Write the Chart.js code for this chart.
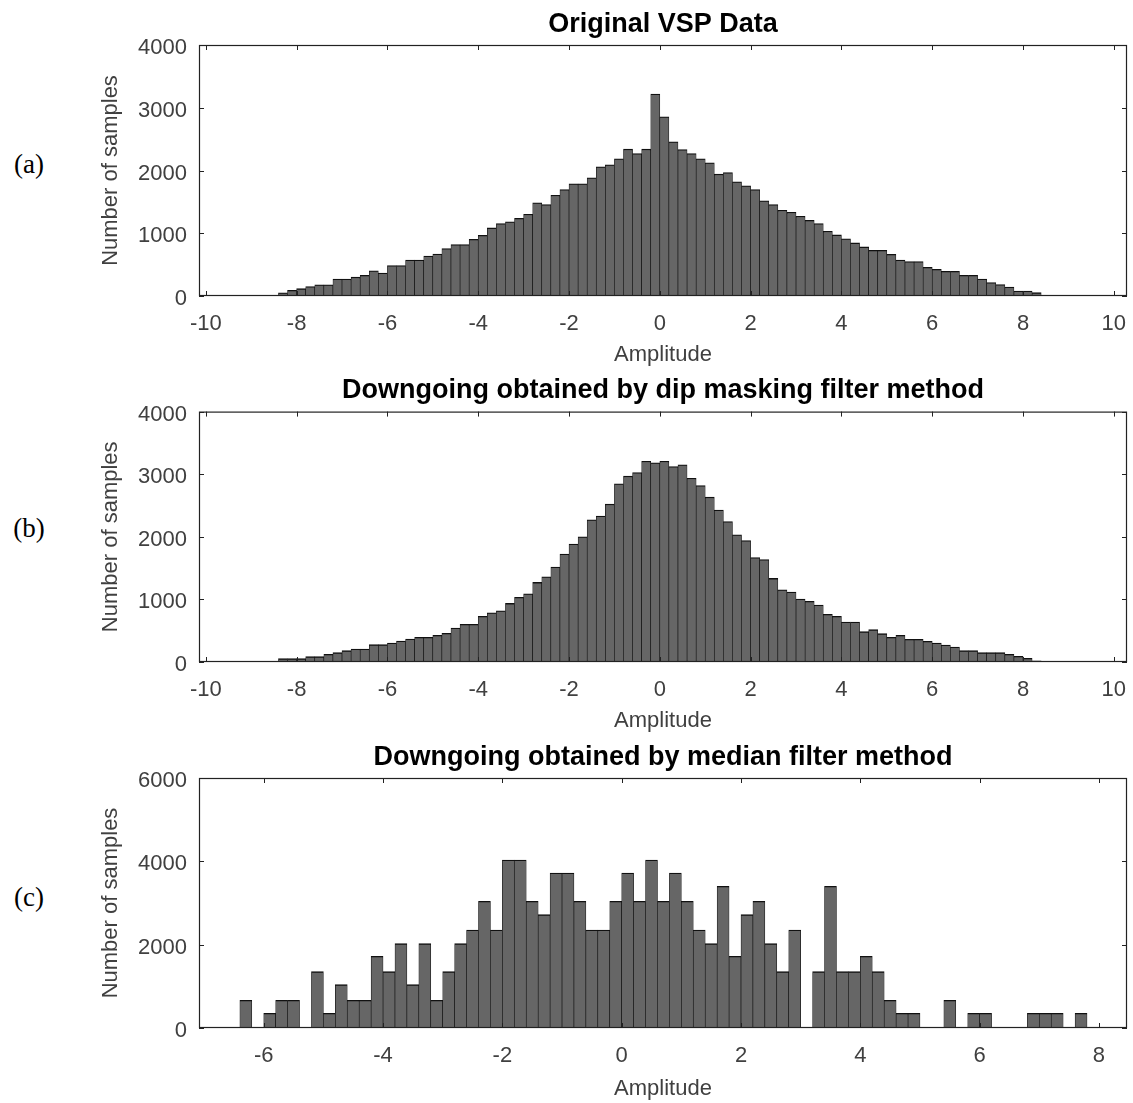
<!DOCTYPE html>
<html>
<head>
<meta charset="utf-8">
<script src="https://cdn.jsdelivr.net/npm/chart.js@4.4.1/dist/chart.umd.min.js"></script>
<style>
  body { margin: 0; background: #fff; }
  #wrap { position: relative; width: 1133px; height: 1103px; overflow: hidden; }
  canvas { position: absolute; left: 0; }
  .tag {
    position: absolute;
    font-family: "Liberation Serif", "Times New Roman", serif;
    font-size: 27px;
    color: #000;
    transform: translate(-50%, -50%);
  }
</style>
</head>
<body>
<div id="wrap">
  <div class="tag" style="left:29px; top:164px">(a)</div>
  <div class="tag" style="left:29px; top:528px">(b)</div>
  <div class="tag" style="left:29px; top:897px">(c)</div>
  <canvas id="chartA" width="1133" height="368" style="top:0px"></canvas>
  <canvas id="chartB" width="1133" height="364" style="top:370px"></canvas>
  <canvas id="chartC" width="1133" height="366" style="top:736px"></canvas>
</div>

<script>
// bins are 0.2 wide; first bin left edge given per panel
let binWidth = 0.2;
let binStartA = -8.4;
let binStartB = -8.4;
let binStartC = -6.4;

// (a) Original VSP Data
let countsA = [50, 90, 117, 150, 180, 180, 270, 270, 300, 330,
  400, 367, 484, 484, 574, 574, 638, 670, 755, 819,
  819, 904, 968, 1085, 1154, 1181, 1239, 1303, 1484, 1457,
  1606, 1697, 1787, 1787, 1883, 2059, 2090, 2186, 2340, 2271,
  2340, 3218, 2856, 2457, 2335, 2271, 2186, 2122, 1941, 1968,
  1819, 1755, 1697, 1516, 1457, 1367, 1335, 1271, 1207, 1154,
  1032, 973, 910, 846, 782, 729, 729, 665, 574, 548,
  548, 457, 426, 394, 394, 330, 330, 271, 213, 181,
  144, 80, 80, 53];

// (b) dip masking filter
let countsB = [53, 53, 53, 85, 85, 122, 149, 181, 207, 207,
  277, 277, 303, 335, 367, 394, 394, 426, 457, 543,
  601, 601, 729, 787, 819, 936, 1032, 1090, 1271, 1362,
  1516, 1723, 1883, 2000, 2271, 2330, 2521, 2846, 2968, 3027,
  3207, 3181, 3207, 3122, 3149, 2936, 2819, 2633, 2426, 2245,
  2032, 1941, 1670, 1638, 1335, 1154, 1117, 1005, 968, 910,
  761, 729, 638, 638, 484, 516, 452, 394, 426, 362,
  362, 330, 303, 271, 239, 181, 181, 149, 149, 149,
  122, 90, 59, 20];

// (c) median filter
let countsC = [664, 0, 352, 664, 664, 0, 1352, 352, 1040, 664,
  664, 1720, 1352, 2024, 1040, 2024, 664, 1352, 2024, 2352,
  3040, 2352, 4032, 4032, 3040, 2720, 3720, 3720, 3040, 2352,
  2352, 3040, 3720, 3040, 4032, 3040, 3720, 3040, 2352, 2024,
  3400, 1720, 2720, 3040, 2024, 1352, 2352, 0, 1352, 3400,
  1352, 1352, 1720, 1352, 664, 352, 352, 0, 0, 664,
  0, 352, 352, 0, 0, 0, 352, 352, 352, 0,
  352];

let xTicksAB = [-10, -8, -6, -4, -2, 0, 2, 4, 6, 8, 10];
let xTicksC = [-6, -4, -2, 0, 2, 4, 6, 8];
let yTicksAB = [0, 1000, 2000, 3000, 4000];
let yTicksC = [0, 2000, 4000, 6000];

const FONT = '"Liberation Sans", Arial, Helvetica, sans-serif';

const binCenters = (start, n) => {
  let c = [];
  for (let i = 0; i < n; i++) c.push(+(start + (i + 0.5) * binWidth).toFixed(2));
  return c;
};

// MATLAB-like box with inward ticks on all four sides
const boxPlugin = {
  id: 'box',
  afterDatasetsDraw(chart) {
    const { ctx, chartArea: a, scales: { x, y } } = chart;
    ctx.save();
    ctx.strokeStyle = '#222';
    ctx.lineWidth = 1.2;
    ctx.strokeRect(a.left + 0.5, a.top + 0.5, a.width - 1, a.height - 1);
    ctx.beginPath();
    x.ticks.forEach(t => {
      const px = Math.round(x.getPixelForValue(t.value)) + 0.5;
      ctx.moveTo(px, a.bottom); ctx.lineTo(px, a.bottom - 5);
      ctx.moveTo(px, a.top); ctx.lineTo(px, a.top + 5);
    });
    y.ticks.forEach(t => {
      const py = Math.round(y.getPixelForValue(t.value)) + 0.5;
      ctx.moveTo(a.left, py); ctx.lineTo(a.left + 5, py);
      ctx.moveTo(a.right, py); ctx.lineTo(a.right - 5, py);
    });
    ctx.lineWidth = 1;
    ctx.stroke();
    ctx.restore();
  }
};

const makeHist = (id, title, start, counts, xMin, xMax, xTicks, yMax, yTicks, titleTop, xAxisHeight) => {
  const centers = binCenters(start, counts.length);
  const points = counts.map((v, i) => ({ x: centers[i], y: v }));

  new Chart(document.getElementById(id), {
    type: 'bar',
    data: {
      datasets: [{
        data: points,
        backgroundColor: '#666666',
        borderColor: '#111111',
        borderWidth: { top: 1.3, left: 0.65, right: 0.65, bottom: 0 },
        borderSkipped: false,
        barPercentage: 1,
        categoryPercentage: 1
      }]
    },
    options: {
      responsive: false,
      animation: false,
      layout: { padding: { left: 0, right: 6, top: 0, bottom: 0 } },
      plugins: {
        legend: { display: false },
        tooltip: { enabled: false },
        title: {
          display: true,
          text: title,
          fullSize: false,
          color: '#000',
          font: { family: FONT, size: 27, weight: 'bold' },
          padding: { top: titleTop, bottom: 4.6 }
        }
      },
      scales: {
        x: {
          type: 'linear',
          min: xMin,
          max: xMax,
          offset: false,
          grid: { display: false, drawTicks: false },
          border: { display: false },
          afterBuildTicks: s => { s.ticks = xTicks.map(v => ({ value: v })); },
          afterFit: s => {
            s.height = xAxisHeight;
            s.paddingLeft = 0;
            s.paddingRight = 0;
          },
          ticks: {
            color: '#404040',
            padding: 15,
            maxRotation: 0,
            autoSkip: false,
            font: { family: FONT, size: 22 },
            callback: v => String(v)
          },
          title: {
            display: true,
            text: 'Amplitude',
            color: '#404040',
            font: { family: FONT, size: 22 },
            padding: { top: 0, bottom: 0 }
          }
        },
        y: {
          min: 0,
          max: yMax,
          grid: { display: false, drawTicks: false },
          border: { display: false },
          afterBuildTicks: s => { s.ticks = yTicks.map(v => ({ value: v })); },
          afterFit: s => {
            s.width = 199;
            s.paddingTop = 0;
            s.paddingBottom = 0;
          },
          ticks: {
            color: '#404040',
            padding: 12,
            labelOffset: 3,
            font: { family: FONT, size: 22 },
            callback: v => String(v)
          },
          title: {
            display: true,
            text: 'Number of samples',
            color: '#404040',
            font: { family: FONT, size: 22 },
            padding: { top: 97.8, bottom: 0 }
          }
        }
      }
    },
    plugins: [boxPlugin]
  });
};

makeHist('chartA', 'Original VSP Data', binStartA, countsA, -10.15, 10.29, xTicksAB, 4000, yTicksAB, 8.0, 72);
makeHist('chartB', 'Downgoing obtained by dip masking filter method', binStartB, countsB, -10.15, 10.29, xTicksAB, 4000, yTicksAB, 4.6, 72);
makeHist('chartC', 'Downgoing obtained by median filter method', binStartC, countsC, -7.085, 8.47, xTicksC, 6000, yTicksC, 5.0, 74);
</script>
</body>
</html>
